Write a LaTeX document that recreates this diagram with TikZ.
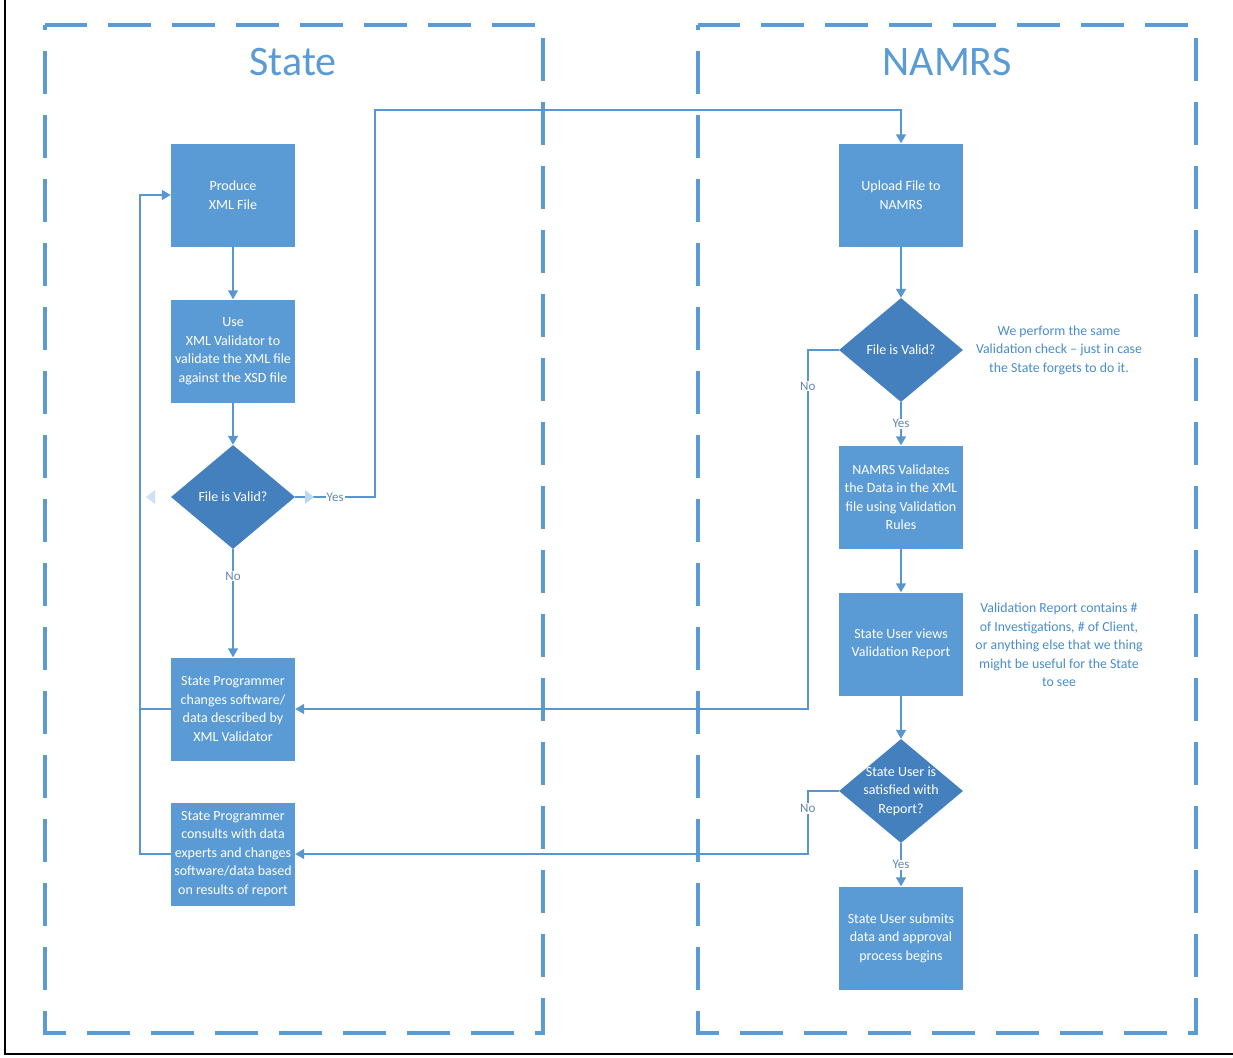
\documentclass[tikz,border=0pt]{standalone}
\usepackage{fontspec}
\setmainfont{Carlito}
\usetikzlibrary{shapes.geometric,arrows.meta}
\definecolor{boxblue}{RGB}{91,155,213}
\definecolor{diablue}{RGB}{68,128,190}
\definecolor{lineblue}{RGB}{88,150,208}
\definecolor{noteblue}{RGB}{72,140,205}
\definecolor{lblblue}{RGB}{100,135,175}
\begin{document}
\begin{tikzpicture}[x=1pt,y=-1pt, >={Triangle[width=10pt,length=9pt]},
	frame/.style={draw=boxblue, line width=4.5pt, dash pattern=on 43pt off 21pt, dash phase=38pt},
	title/.style={text=boxblue, font=\fontsize{42}{50}\selectfont},
	stepbox/.style={fill=boxblue, text=white, minimum width=124pt, minimum height=103pt,
		inner sep=2pt, align=center, font=\fontsize{14}{18.5}\selectfont},
	dia/.style={diamond, fill=diablue, minimum width=124pt, minimum height=104pt, inner sep=0pt},
	diatext/.style={text=white, align=center, font=\fontsize{14}{18.5}\selectfont},
	conn/.style={draw=lineblue, line width=1.5pt},
	lbl/.style={fill=white, inner sep=1pt, text=lblblue, font=\fontsize{13}{15}\selectfont},
	note/.style={text=noteblue, align=center, font=\fontsize{13.8}{18.5}\selectfont}]
	\useasboundingbox (0,0) rectangle (1233,1057);
	\draw[line width=2pt] (5,0) -- (5,1054) -- (1233,1054);
	% swim lanes
	\draw[frame] (45,25) rectangle (543,1033);
	\draw[frame] (698,25) rectangle (1196,1033);
	\node[title] (state) at (293,62) {State};
	\node[title] (namrs) at (947,62) {NAMRS};
	% state side
	\node[stepbox] (produce) at (233,195) {Produce\\XML File};
	\node[stepbox] (use) at (233,351) {Use\\XML Validator to\\validate the XML file\\against the XSD file};
	\node[dia, label={[diatext]center:File is Valid?}] (valid1) at (233,497) {};
	\node[stepbox] (change) at (233,709) {State Programmer\\changes software/\\data described by\\XML Validator};
	\node[stepbox] (consult) at (233,854) {State Programmer\\consults with data\\experts and changes\\software/data based\\on results of report};
	% namrs side
	\node[stepbox] (upload) at (901,195) {Upload File to\\NAMRS};
	\node[dia, label={[diatext]center:File is Valid?}] (valid2) at (901,350) {};
	\node[stepbox] (check) at (901,497) {NAMRS Validates\\the Data in the XML\\file using Validation\\Rules};
	\node[stepbox] (views) at (901,644) {State User views\\Validation Report};
	\node[dia, label={[diatext]center:State User is\\satisfied with\\Report?}] (valid3) at (901,791) {};
	\node[stepbox] (submit) at (901,938) {State User submits\\data and approval\\process begins};
	\node[note] (note1) at (1059,350) {We perform the same\\Validation check – just in case\\the State forgets to do it.};
	\node[note] (note2) at (1059,645) {Validation Report contains \#\\of Investigations, \# of Client,\\or anything else that we thing\\might be useful for the State\\to see};
	% connectors
	\coordinate (loop) at (140,195);
	\coordinate (up) at (375,110);
	\draw[conn,->] (produce) -- (use);
	\draw[conn,->] (use) -- (valid1);
	\draw[conn,->] (valid1) -- node[lbl,pos=.25]{No} (change);
	\draw[conn,->] (valid1.east) -| node[lbl,pos=.25]{Yes} (up) -| (upload.north);
	\draw[conn,->] (change.west) -| (loop) -- (produce.west);
	\draw[conn] (consult.west) -| (loop);
	\draw[conn,->] (upload) -- (valid2);
	\draw[conn,->] (valid2) -- node[lbl]{Yes} (check);
	\draw[conn,->] (check) -- (views);
	\draw[conn,->] (views) -- (valid3);
	\draw[conn,->] (valid3) -- node[lbl]{Yes} (submit);
	\draw[conn,->] (valid2.west) -- ++(-31,0) |- node[lbl,pos=.05]{No} (change.east);
	\draw[conn,->] (valid3.west) -- ++(-31,0) |- node[lbl,pos=.14]{No} (consult.east);
	% faint ghost tips
	\fill[boxblue!30] (146,497) -- (155,490) -- (155,504) -- cycle;
	\fill[boxblue!40] (314,497) -- (305,490) -- (305,504) -- cycle;
\end{tikzpicture}
\end{document}
